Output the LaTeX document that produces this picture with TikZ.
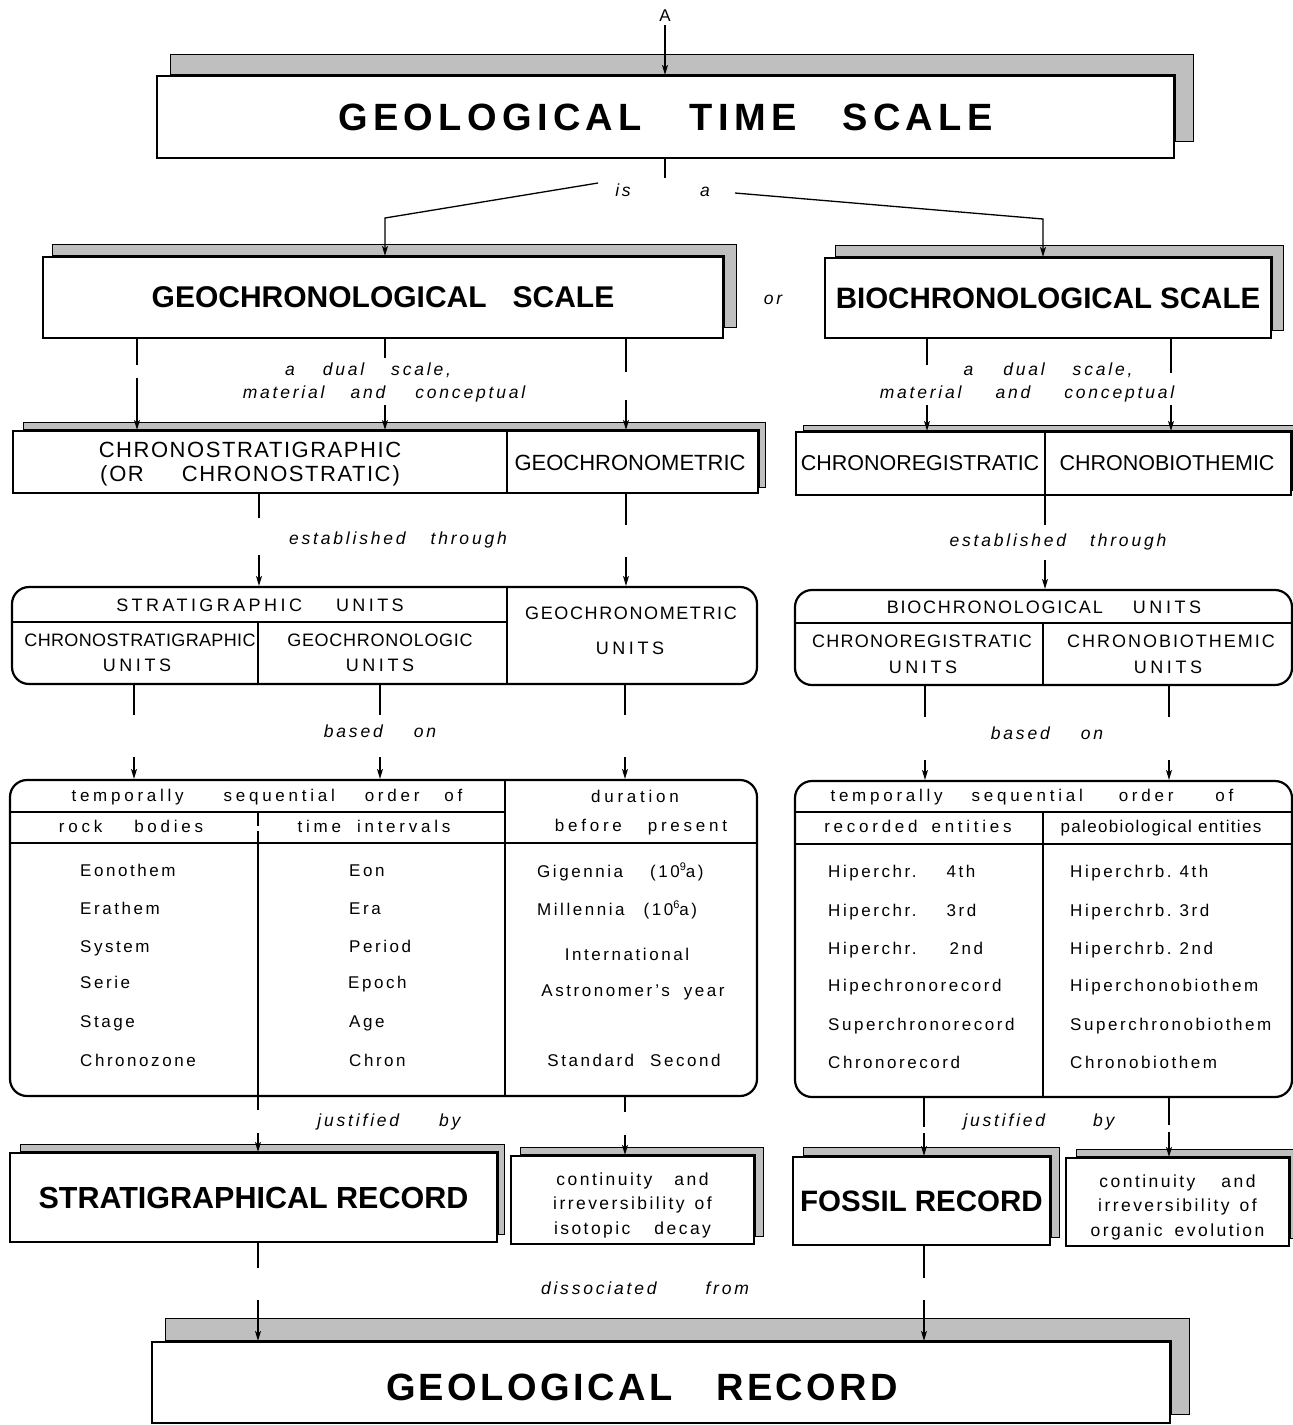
\documentclass[tikz,border=0pt]{standalone}
\usepackage{fontspec}
\setmainfont{Liberation Sans}
\usetikzlibrary{arrows.meta,calc}
\newcommand\shd[5]{%
  \path[shad] ($(#1.north west)+(#2,0)$) -- ++(0,-#3) -- ($(#1.north east)+(#4,-#3)$)
    -- ($(#1.south east)+(#4,-#5)$) -- ($(#1.south east)+(0,-#5)$) -- (#1.north east) -- cycle;}
\tikzset{
  bx/.style={draw, line width=2.2pt, fill=white, inner sep=0pt},
  rbx/.style={draw, line width=2.2pt, rounded corners=17pt, inner sep=0pt},
  shad/.style={fill=black!25, draw=black, line width=1pt},
  dv/.style={line width=1.6pt},
  ln/.style={line width=1.3pt},
  arr/.style={line width=1.3pt, -{Stealth[length=10pt,width=6pt,inset=2.5pt]}},
  ttl/.style={font=\fontsize{38}{40}\selectfont\bfseries\addfontfeature{LetterSpace=14}},
  hd/.style={font=\fontsize{30}{32}\selectfont\bfseries},
  cap2/.style={inner sep=0pt, text height=15.8pt, text depth=0pt, font=\fontsize{22}{24}\selectfont},
  cap3/.style={inner sep=0pt, text height=12.9pt, text depth=0pt, font=\fontsize{18}{20}\selectfont},
  tx/.style={inner sep=0pt, text height=12pt, text depth=3.5pt, font=\fontsize{17}{20}\selectfont\addfontfeature{LetterSpace=15}},
  th/.style={inner sep=0pt, text height=12pt, text depth=3.5pt, font=\fontsize{17}{20}\selectfont\addfontfeature{LetterSpace=22}},
  it/.style={inner sep=0pt, text height=12pt, text depth=3.5pt, font=\fontsize{17.5}{20}\selectfont\itshape\addfontfeature{LetterSpace=16}},
  ml/.style={font=\fontsize{17.5}{24.5}\selectfont\addfontfeature{LetterSpace=14}},
}
\newcommand\ups[1]{\raisebox{7pt}{\fontsize{11}{11}\selectfont #1}}
\begin{document}
\begin{tikzpicture}[x=1pt,y=-1pt]
\useasboundingbox (0,0) rectangle (1293,1425);
% ---------- main boxes
\node[bx, ttl, minimum width=1017pt, minimum height=82pt] (gts) at (665.5,117) {GEOLOGICAL\hspace{48pt}TIME\hspace{46pt}SCALE};
\shd{gts}{15}{20}{18}{18}
\node[bx, hd, minimum width=680pt, minimum height=81pt] (gcs) at (383,297.5) {GEOCHRONOLOGICAL\hspace{26pt}SCALE};
\shd{gcs}{11}{11}{12}{12}
\node[bx, font=\fontsize{29.5}{31}\selectfont\bfseries, minimum width=446pt, minimum height=80pt] (bcs) at (1048,298) {BIOCHRONOLOGICAL SCALE};
\shd{bcs}{12}{11}{11}{9}
\node[bx, minimum width=745pt, minimum height=62pt] (cst) at (385.5,462) {};
\shd{cst}{12}{7}{6}{7}
\node[bx, minimum width=495pt, minimum height=63pt] (crg) at (1043.5,463.5) {};
\shd{crg}{9}{5}{7}{6}
\node[rbx, minimum width=745pt, minimum height=97pt] (su) at (384.5,635.5) {};
\node[rbx, minimum width=497pt, minimum height=95pt] (bu) at (1043.5,637.5) {};
\node[rbx, minimum width=747pt, minimum height=316pt] (lt) at (383.5,938) {};
\node[rbx, minimum width=497pt, minimum height=316pt] (rt) at (1043.5,939) {};
\node[bx, font=\fontsize{30.5}{32}\selectfont\bfseries, minimum width=487pt, minimum height=89pt] (srec) at (253.5,1197.5) {STRATIGRAPHICAL RECORD};
\shd{srec}{12}{7}{6}{9}
\node[bx, ml, align=center, minimum width=243pt, minimum height=88pt] (cid) at (632.5,1200) {\rule{0pt}{23pt}continuity\hspace{22pt}and\\irreversibility\hspace{10pt}of\\isotopic\hspace{24pt}decay};
\shd{cid}{11}{7}{8}{9}
\node[bx, font=\fontsize{29.5}{31}\selectfont\bfseries, minimum width=257pt, minimum height=88pt] (frec) at (921.5,1201) {FOSSIL RECORD};
\shd{frec}{12}{8}{8}{9}
\node[bx, ml, align=center, minimum width=223pt, minimum height=88pt] (coe) at (1177.5,1202) {\rule{0pt}{23pt}continuity\hspace{26pt}and\\irreversibility\hspace{10pt}of\\organic\hspace{12pt}evolution};
\shd{coe}{12}{7}{8}{9}
\node[bx, minimum width=1018pt, minimum height=81pt] (grec) at (661,1382.5) {};
\shd{grec}{15}{22}{18}{10}
\node[font=\fontsize{38}{40}\selectfont\bfseries\addfontfeature{LetterSpace=9}] (grt) at (642,1387) {GEOLOGICAL\hspace{44pt}RECORD};
% ---------- dividers
\draw[dv] (cst.north -| 507,0) -- (cst.south -| 507,0);
\draw[dv] (crg.north -| 1045,0) -- (crg.south -| 1045,0);
\draw[dv] (su.west |- 0,622) -- (507,622);
\draw[dv] (su.north -| 507,0) -- (su.south -| 507,0);
\draw[dv] (258,622) -- (su.south -| 258,0);
\draw[dv] (bu.west |- 0,623) -- (bu.east |- 0,623);
\draw[dv] (1043,623) -- (bu.south -| 1043,0);
\draw[dv] (lt.west |- 0,812) -- (505,812);
\draw[dv] (lt.west |- 0,843) -- (lt.east |- 0,843);
\draw[dv] (lt.north -| 505,0) -- (lt.south -| 505,0);
\draw[dv] (258,843) -- (lt.south -| 258,0);
\draw[ln, dash pattern=on 13pt off 5pt] (258,813) -- (258,843);
\draw[dv] (rt.west |- 0,812) -- (rt.east |- 0,812);
\draw[dv] (rt.west |- 0,844) -- (rt.east |- 0,844);
\draw[dv] (1043,812) -- (rt.south -| 1043,0);
% ---------- texts
\node[tx] (A) at (665,17) {A};
\node[it] (is) at (623,192) {is};
\node[it] (a0) at (705,192) {a};
\node[it] (or) at (773,300) {or};
\node[it] (d1) at (368,371) {a\hspace{28pt}dual\hspace{27pt}scale,};
\node[it] (d2) at (384,394) {material\hspace{26pt}and\hspace{30pt}conceptual};
\node[it] (d3) at (1048,371) {a\hspace{30pt}dual\hspace{28pt}scale,};
\node[it] (d4) at (1027,394) {material\hspace{34pt}and\hspace{34pt}conceptual};
\node[cap2] (t1) at (250,450) {\addfontfeature{LetterSpace=7}CHRONOSTRATIGRAPHIC};
\node[cap2] (t2) at (250,474) {\addfontfeature{LetterSpace=7}(\hspace{2pt}OR\hspace{38pt}CHRONOSTRATIC\hspace{2pt})};
\node[cap2] (t3) at (630,463) {GEOCHRONOMETRIC};
\node[cap2, font=\fontsize{21.5}{24}\selectfont] (t4) at (920,463) {CHRONOREGISTRATIC};
\node[cap2, font=\fontsize{21.5}{24}\selectfont] (t5) at (1167,463) {CHRONOBIOTHEMIC};
\node[it] (e1) at (398,540) {established\hspace{25pt}through};
\node[it] (e2) at (1058,542) {established\hspace{24pt}through};
\node[cap3] (u1) at (260,605) {\addfontfeature{LetterSpace=19}STRATIGRAPHIC\hspace{34pt}UNITS};
\node[cap3] (u2) at (140,640) {\addfontfeature{LetterSpace=2}CHRONOSTRATIGRAPHIC};
\node[cap3] (u3) at (137,665) {\addfontfeature{LetterSpace=20}UNITS};
\node[cap3] (u4) at (380,640) {\addfontfeature{LetterSpace=4}GEOCHRONOLOGIC};
\node[cap3] (u5) at (380,665) {\addfontfeature{LetterSpace=20}UNITS};
\node[cap3] (u6) at (631,613) {\addfontfeature{LetterSpace=9}GEOCHRONOMETRIC};
\node[cap3] (u7) at (630,648) {\addfontfeature{LetterSpace=20}UNITS};
\node[cap3] (u8) at (1044,607) {\addfontfeature{LetterSpace=10}BIOCHRONOLOGICAL\hspace{30pt}{\addfontfeature{LetterSpace=20}UNITS}};
\node[cap3] (u9) at (922,641) {\addfontfeature{LetterSpace=7}CHRONOREGISTRATIC};
\node[cap3] (u10) at (923,667) {\addfontfeature{LetterSpace=20}UNITS};
\node[cap3] (u11) at (1171,641) {\addfontfeature{LetterSpace=11}CHRONOBIOTHEMIC};
\node[cap3] (u12) at (1168,667) {\addfontfeature{LetterSpace=20}UNITS};
\node[it] (b1) at (380,733) {based\hspace{31pt}on};
\node[it] (b2) at (1047,735) {based\hspace{31pt}on};
% left table
\node[th] (h1) at (267,797) {temporally\hspace{40pt}sequential\hspace{30pt}order\hspace{25pt}of};
\node[th] (h2) at (131,828) {rock\hspace{32pt}bodies};
\node[th] (h3) at (374,828) {time\hspace{16pt}intervals};
\node[th] (h4) at (635,798) {duration};
\node[th] (h5) at (641,827) {before\hspace{26pt}present};
\node[tx, anchor=west] (l1) at (80,872) {Eonothem};
\node[tx, anchor=west] (l2) at (80,910) {Erathem};
\node[tx, anchor=west] (l3) at (80,948) {System};
\node[tx, anchor=west] (l4) at (80,984) {Serie};
\node[tx, anchor=west] (l5) at (80,1023) {Stage};
\node[tx, anchor=west] (l6) at (80,1062) {Chronozone};
\node[tx, anchor=west] (m1) at (349,872) {Eon};
\node[tx, anchor=west] (m2) at (349,910) {Era};
\node[tx, anchor=west] (m3) at (349,948) {Period};
\node[tx, anchor=west] (m4) at (348,984) {Epoch};
\node[tx, anchor=west] (m5) at (349,1023) {Age};
\node[tx, anchor=west] (m6) at (349,1062) {Chron};
\node[tx, anchor=west] (r1) at (537,873) {Gigennia\hspace{27pt}(10\ups{9}a)};
\node[tx, anchor=west] (r2) at (537,911) {Millennia\hspace{19pt}(10\ups{6}a)};
\node[tx] (r3) at (627,956) {International};
\node[tx] (r4) at (633,992) {Astronomer's\hspace{14pt}year};
\node[tx] (r5) at (634,1062) {Standard\hspace{16pt}Second};
% right table
\node[th] (h6) at (1032,797) {temporally\hspace{29pt}sequential\hspace{36pt}order\hspace{42pt}of};
\node[th] (h7) at (918,828) {recorded\hspace{14pt}entities};
\node[th, font=\fontsize{17}{20}\selectfont\addfontfeature{LetterSpace=8}] (h8) at (1161,828) {paleobiological entities};
\node[tx, anchor=west] (p1) at (828,873) {Hiperchr.\hspace{30pt}4th};
\node[tx, anchor=west] (p2) at (828,912) {Hiperchr.\hspace{30pt}3rd};
\node[tx, anchor=west] (p3) at (828,950) {Hiperchr.\hspace{33pt}2nd};
\node[tx, anchor=west] (p4) at (828,987) {Hipechronorecord};
\node[tx, anchor=west] (p5) at (828,1026) {Superchronorecord};
\node[tx, anchor=west] (p6) at (828,1064) {Chronorecord};
\node[tx, anchor=west] (q1) at (1070,873) {Hiperchrb.\hspace{8pt}4th};
\node[tx, anchor=west] (q2) at (1070,912) {Hiperchrb.\hspace{8pt}3rd};
\node[tx, anchor=west] (q3) at (1070,950) {Hiperchrb.\hspace{8pt}2nd};
\node[tx, anchor=west] (q4) at (1070,987) {Hiperchonobiothem};
\node[tx, anchor=west] (q5) at (1070,1026) {Superchronobiothem};
\node[tx, anchor=west] (q6) at (1070,1064) {Chronobiothem};
\node[it] (j1) at (389,1122) {justified\hspace{40pt}by};
\node[it] (j2) at (1039,1122) {justified\hspace{48pt}by};
\node[it] (df) at (645,1290) {dissociated\hspace{49pt}from};
% ---------- connectors
\coordinate (isL) at (598,183);
\coordinate (aR) at (735,193);
\draw[arr] (A) -- (A |- gts.north);
\draw[ln] (gts.south -| 665,0) -- (665,178);
\draw[arr] (isL) -- (385,218) -- (gcs.north -| 385,0);
\draw[arr] (aR) -- (1043,219) -- (bcs.north -| 1043,0);
\draw[ln] (gcs.south -| 137,0) -- (137,365);
\draw[arr] (137,378) -- (cst.north -| 137,0);
\draw[ln] (gcs.south -| 385,0) -- (385,358);
\draw[arr] (385,405) -- (cst.north -| 385,0);
\draw[ln] (gcs.south -| 626,0) -- (626,372);
\draw[arr] (626,400) -- (cst.north -| 626,0);
\draw[ln] (bcs.south -| 927,0) -- (927,365);
\draw[arr] (927,405) -- (crg.north -| 927,0);
\draw[ln] (bcs.south -| 1171,0) -- (1171,373);
\draw[arr] (1171,405) -- (crg.north -| 1171,0);
\draw[ln] (cst.south -| 259,0) -- (259,518);
\draw[arr] (259,555) -- (su.north -| 259,0);
\draw[ln] (cst.south -| 626,0) -- (626,525);
\draw[arr] (626,557) -- (su.north -| 626,0);
\draw[ln] (crg.south -| 1045,0) -- (1045,525);
\draw[arr] (1045,560) -- (bu.north -| 1045,0);
\draw[ln] (su.south -| 134,0) -- (134,715);
\draw[arr] (134,757) -- (lt.north -| 134,0);
\draw[ln] (su.south -| 380,0) -- (380,715);
\draw[arr] (380,757) -- (lt.north -| 380,0);
\draw[ln] (su.south -| 625,0) -- (625,715);
\draw[arr] (625,757) -- (lt.north -| 625,0);
\draw[ln] (bu.south -| 925,0) -- (925,717);
\draw[arr] (925,760) -- (rt.north -| 925,0);
\draw[ln] (bu.south -| 1169,0) -- (1169,717);
\draw[arr] (1169,760) -- (rt.north -| 1169,0);
\draw[ln] (lt.south -| 258,0) -- (258,1110);
\draw[arr] (258,1133) -- (srec.north -| 258,0);
\draw[ln] (lt.south -| 625,0) -- (625,1112);
\draw[arr] (625,1135) -- (cid.north -| 625,0);
\draw[ln] (rt.south -| 924,0) -- (924,1127);
\draw[arr] (924,1133) -- (frec.north -| 924,0);
\draw[ln] (rt.south -| 1169,0) -- (1169,1125);
\draw[arr] (1169,1132) -- (coe.north -| 1169,0);
\draw[ln] (srec.south -| 258,0) -- (258,1268);
\draw[arr] (258,1300) -- (grec.north -| 258,0);
\draw[ln] (frec.south -| 924,0) -- (924,1278);
\draw[arr] (924,1300) -- (grec.north -| 924,0);
\end{tikzpicture}
\end{document}
